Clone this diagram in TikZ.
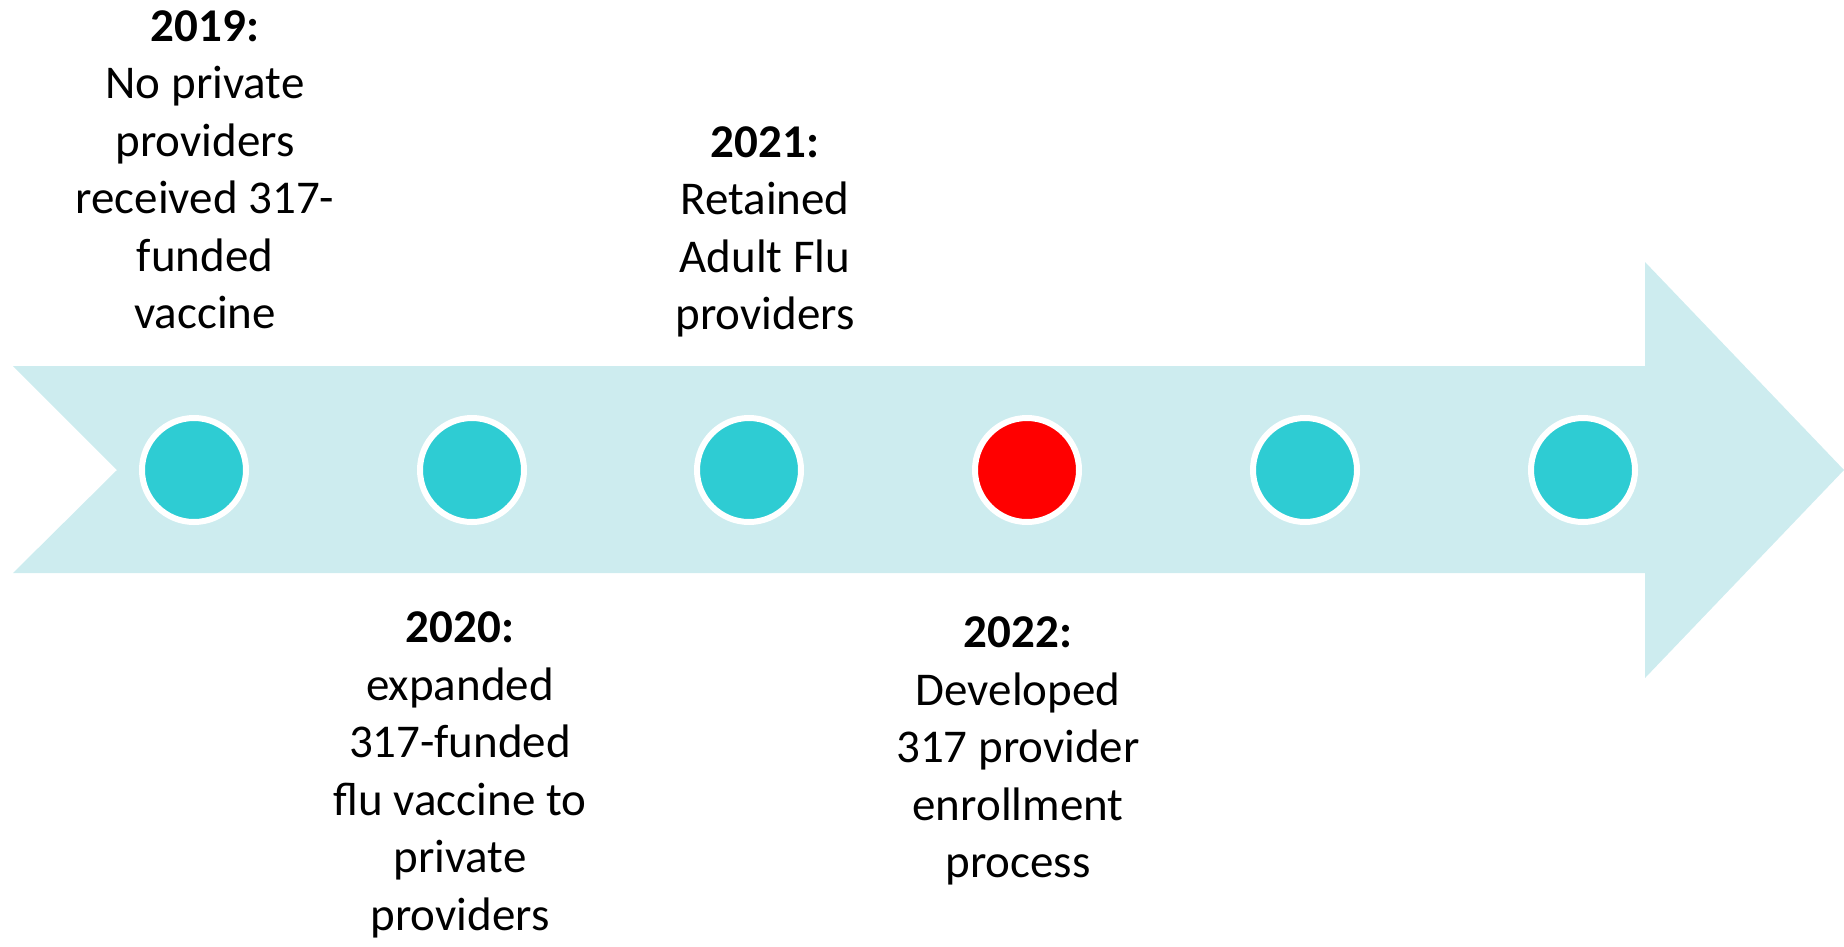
\documentclass[tikz,border=0pt]{standalone}
\usepackage{fontspec}
\setmainfont{Carlito}
\definecolor{band}{RGB}{205,236,239}
\definecolor{dotteal}{RGB}{46,204,211}
\definecolor{dotred}{RGB}{255,0,0}
\begin{document}
\begin{tikzpicture}[x=0.75pt,y=-0.75pt,
  dot/.style={circle,draw=white,line width=4.5pt,minimum size=78pt,inner sep=0pt,fill=dotteal},
  label/.style={align=center,inner sep=0pt,anchor=base,font=\fontsize{35.25}{43.1}\selectfont}]
\useasboundingbox (0,0) rectangle (1844,946);
\fill[band] (13,366) -- (1645,366) -- (1645,262) -- (1844,470) -- (1645,678) -- (1645,573) -- (13,573) -- (117,470) -- cycle;
\node[dot] (c1) at (194,470) {};
\node[dot] (c2) at (472,470) {};
\node[dot] (c3) at (749,470) {};
\node[dot,fill=dotred] (c4) at (1027,470) {};
\node[dot] (c5) at (1305,470) {};
\node[dot] (c6) at (1583,470) {};
\node[label] (t2019) at (205,328.5) {\textbf{2019:}\\No private\\providers\\received 317-\\funded\\vaccine};
\node[label] (t2021) at (765,329.5) {\textbf{2021:}\\Retained\\Adult Flu\\providers};
\node[label] (t2020) at (460,930) {\textbf{2020:}\\expanded\\317-funded\\flu vaccine to\\private\\providers};
\node[label] (t2022) at (1018,877.5) {\textbf{2022:}\\Developed\\317 provider\\enrollment\\process};
\end{tikzpicture}
\end{document}
